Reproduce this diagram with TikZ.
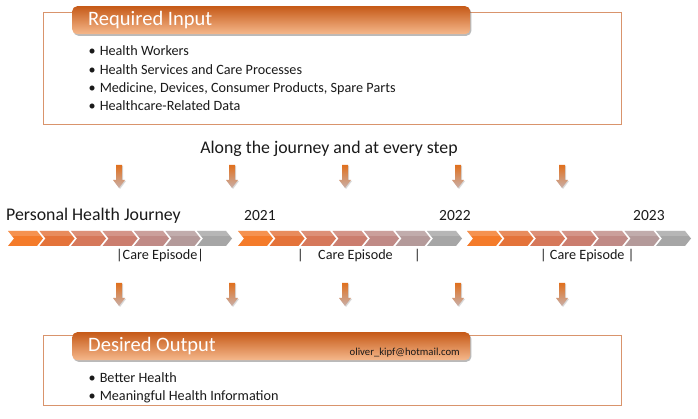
\documentclass[tikz,border=0pt]{standalone}
\usepackage{fontspec}
\setmainfont{Carlito}
\usetikzlibrary{shadows}
\definecolor{hdrTop}{HTML}{C65A18}
\definecolor{hdrBot}{HTML}{F5B88C}
\definecolor{boxLine}{HTML}{D9946C}
\definecolor{txt}{HTML}{1A1A1A}
\definecolor{chA}{HTML}{F47B2A}
\definecolor{chB}{HTML}{E4733A}
\definecolor{chC}{HTML}{D6785A}
\definecolor{chD}{HTML}{CB7D6E}
\definecolor{chE}{HTML}{C08A86}
\definecolor{chF}{HTML}{B49A9A}
\definecolor{chG}{HTML}{A6A6A6}
\definecolor{arTop}{HTML}{E0701E}
\definecolor{arBot}{HTML}{C9AFA8}
\tikzset{
  outerbox/.style={draw=boxLine, line width=1pt, fill=white, anchor=north west, inner sep=0pt},
  hdrbox/.style={rounded corners=5pt, top color=hdrTop, bottom color=hdrBot, draw=none,
     anchor=north west, inner sep=0pt,
     drop shadow={shadow xshift=1.2pt, shadow yshift=-1.6pt, opacity=0.45, fill=black!60}},
  hdrtext/.style={anchor=west, text=white, font=\fontsize{20.5}{24}\selectfont, inner sep=0pt},
  bullet/.style={anchor=base west, text=txt, font=\fontsize{14.2}{16}\selectfont, inner sep=0pt},
  midtext/.style={text=txt, inner sep=0pt, font=\fontsize{17.8}{20}\selectfont},
  yeartext/.style={anchor=base west, text=txt, inner sep=0pt, font=\fontsize{15.5}{18}\selectfont},
  caretext/.style={anchor=base west, text=txt, inner sep=0pt, font=\fontsize{14.2}{16}\selectfont},
}
\begin{document}
\begin{tikzpicture}[x=1pt,y=-1pt]
\useasboundingbox (0,0) rectangle (698,419);
\fill[white] (0,0) rectangle (698,419);

% ---------- Required input box ----------
\node[outerbox, minimum width=578pt, minimum height=112pt] (inbox) at (43,12) {};
\node[hdrbox, minimum width=398pt, minimum height=28pt] (inhdr) at (72,6) {};
\node[hdrtext] (intitle) at (88,20) {Required Input};
\node[bullet] (in1) at (88.5,56) {\textbullet\hspace{4pt}Health Workers};
\node[bullet] (in2) at (88.5,75) {\textbullet\hspace{4pt}Health Services and Care Processes};
\node[bullet] (in3) at (88.5,93) {\textbullet\hspace{4pt}Medicine, Devices, Consumer Products, Spare Parts};
\node[bullet] (in4) at (88.5,111) {\textbullet\hspace{4pt}Healthcare-Related Data};

% ---------- middle ----------
\node[midtext] (along) at (329,149) {Along the journey and at every step};

\foreach \ax in {119,232,345,458,562} {
  \fill[black!25, opacity=0.6] (\ax-2,166) -- (\ax+4,166) -- (\ax+4,181) -- (\ax+7,181) -- (\ax+1,189) -- (\ax-5,181) -- (\ax-2,181) -- cycle;
  \shade[top color=arTop, bottom color=arBot] (\ax-3,165) -- (\ax+3,165) -- (\ax+3,180) -- (\ax+6,180) -- (\ax,188) -- (\ax-6,180) -- (\ax-3,180) -- cycle;
  \fill[black!25, opacity=0.6] (\ax-2,284) -- (\ax+4,284) -- (\ax+4,299) -- (\ax+7,299) -- (\ax+1,307) -- (\ax-5,299) -- (\ax-2,299) -- cycle;
  \shade[top color=arTop, bottom color=arBot] (\ax-3,283) -- (\ax+3,283) -- (\ax+3,298) -- (\ax+6,298) -- (\ax,306) -- (\ax-6,298) -- (\ax-3,298) -- cycle;
}

\node[midtext, anchor=base west] (phj) at (6,221) {Personal Health Journey};
\node[yeartext] (y21) at (244,221) {2021};
\node[yeartext] (y22) at (439,221) {2022};
\node[yeartext] (y23) at (633,221) {2023};

\foreach \gx in {8,238,467} {
  \foreach \i/\c in {0/chA,1/chB,2/chC,3/chD,4/chE,5/chF,6/chG} {
    \fill[\c] (\gx+31.5*\i,231) -- (\gx+31.5*\i+29,231) -- (\gx+31.5*\i+35,238.5)
      -- (\gx+31.5*\i+29,246) -- (\gx+31.5*\i,246) -- (\gx+31.5*\i+6,238.5) -- cycle;
    \fill[white, opacity=0.18] (\gx+31.5*\i,231) -- (\gx+31.5*\i+29,231) -- (\gx+31.5*\i+33,236)
      -- (\gx+31.5*\i+4,236) -- cycle;
  }
}

\node[caretext] (ce1) at (116,260) {|Care Episode|};
\node[caretext] (ce2a) at (297,260) {|};
\node[caretext] (ce2) at (318,260) {Care Episode};
\node[caretext] (ce2b) at (414,260) {|};
\node[caretext] (ce3) at (540,260) {| Care Episode |};

% ---------- Desired output box ----------
\node[outerbox, minimum width=578pt, minimum height=70pt] (outbox) at (43,335) {};
\node[hdrbox, minimum width=398pt, minimum height=28pt] (outhdr) at (72,332) {};
\node[hdrtext] (outtitle) at (88,346) {Desired Output};
\node[anchor=base east, text=txt, inner sep=0pt, font=\fontsize{10.7}{12}\selectfont] (mail) at (460,355) {oliver\_kipf@hotmail.com};
\node[bullet] (out1) at (88.5,382) {\textbullet\hspace{4pt}Better Health};
\node[bullet] (out2) at (88.5,400) {\textbullet\hspace{4pt}Meaningful Health Information};
\end{tikzpicture}
\end{document}
